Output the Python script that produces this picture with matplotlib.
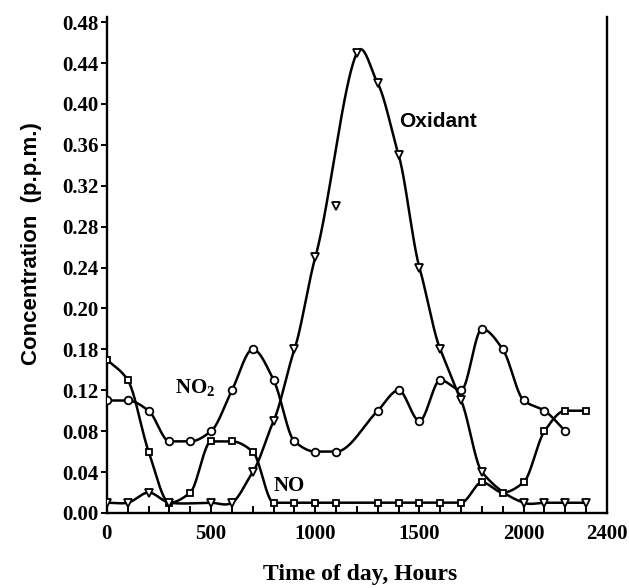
import matplotlib
matplotlib.use('Agg')
import matplotlib.pyplot as plt
import numpy as np

# ── Datos ────────────────────────────────────────────────────────────────────
NO2_H = [0, 100, 200, 300, 400, 500, 600, 700, 800, 900, 1000, 1100,
         1300, 1400, 1500, 1600, 1700, 1800, 1900, 2000, 2100, 2200]
NO2_C = [0.11, 0.11, 0.10, 0.07, 0.07, 0.08, 0.12, 0.16, 0.13, 0.07, 0.06, 0.06,
         0.10, 0.12, 0.09, 0.13, 0.12, 0.18, 0.16, 0.11, 0.10, 0.08]

NO_H = [0, 100, 200, 300, 400, 500, 600, 700, 800, 900, 1000, 1100,
        1300, 1400, 1500, 1600, 1700, 1800, 1900, 2000, 2100, 2200, 2300]
NO_C = [0.15, 0.13, 0.06, 0.01, 0.02, 0.07, 0.07, 0.06, 0.01, 0.01, 0.01, 0.01,
        0.01, 0.01, 0.01, 0.01, 0.01, 0.03, 0.02, 0.03, 0.08, 0.10, 0.10]

OX_H = [0, 100, 200, 300, 500, 600, 700, 800, 900, 1000, 1100, 1200,
        1300, 1400, 1500, 1600, 1700, 1800, 2000, 2100, 2200, 2300]
OX_C = [0.01, 0.01, 0.02, 0.01, 0.01, 0.01, 0.04, 0.09, 0.16, 0.25, 0.30, 0.45,
        0.42, 0.35, 0.24, 0.16, 0.11, 0.04, 0.01, 0.01, 0.01, 0.01]
OX_OFF_CURVE = [1100]   # punto dibujado fuera de la curva ajustada

Y_TICKS = [0.00, 0.04, 0.08, 0.12, 0.16, 0.20, 0.24, 0.28, 0.32, 0.36, 0.40, 0.44, 0.48]
Y_TICKLABELS = ["0.00", "0.04", "0.08", "0.12", "0.18", "0.20", "0.24",
                "0.28", "0.32", "0.36", "0.40", "0.44", "0.48"]
X_TICKS = [0, 500, 1000, 1500, 2000, 2400]
X_TICKLABELS = ["0", "500", "1000", "1500", "2000", "2400"]

SERIF = "Liberation Serif"
SANS = "Liberation Sans"

plt.rcParams["mathtext.fontset"] = "custom"
plt.rcParams["mathtext.rm"] = "Liberation Serif:bold"
plt.rcParams["mathtext.it"] = "Liberation Serif:bold"
plt.rcParams["mathtext.bf"] = "Liberation Serif:bold"


def hermite(x, y, m, xs):
    x = np.asarray(x, float)
    y = np.asarray(y, float)
    h = np.diff(x)
    idx = np.clip(np.searchsorted(x, xs) - 1, 0, len(h) - 1)
    t = (xs - x[idx]) / h[idx]
    h00 = 2 * t**3 - 3 * t**2 + 1
    h10 = t**3 - 2 * t**2 + t
    h01 = -2 * t**3 + 3 * t**2
    h11 = t**3 - t**2
    return h00 * y[idx] + h10 * h[idx] * m[idx] + h01 * y[idx + 1] + h11 * h[idx] * m[idx + 1]


def pchip(x, y, xs):
    """Curva suave monotona (Fritsch-Carlson)."""
    x = np.asarray(x, float)
    y = np.asarray(y, float)
    h = np.diff(x)
    d = np.diff(y) / h
    m = np.zeros_like(y)
    for k in range(1, len(y) - 1):
        if d[k - 1] * d[k] > 0:
            w1 = 2 * h[k] + h[k - 1]
            w2 = h[k] + 2 * h[k - 1]
            m[k] = (w1 + w2) / (w1 / d[k - 1] + w2 / d[k])
    m[0] = d[0]
    m[-1] = d[-1]
    return hermite(x, y, m, xs)


def cardinal(x, y, xs, tension=0.75):
    """Spline cardinal (trazo tenso, tipo curva francesa)."""
    x = np.asarray(x, float)
    y = np.asarray(y, float)
    m = np.zeros_like(y)
    m[1:-1] = tension * (y[2:] - y[:-2]) / (x[2:] - x[:-2])
    m[0] = (y[1] - y[0]) / (x[1] - x[0])
    m[-1] = (y[-1] - y[-2]) / (x[-1] - x[-2])
    return hermite(x, y, m, xs)


fig = plt.figure(figsize=(6.29, 5.88), dpi=100)
ax = fig.add_axes([0.170, 0.1276, 0.795, 0.8435])


def draw(hours, conc, marker, ms, smooth, skip=()):
    keep = [i for i, h in enumerate(hours) if h not in skip]
    hx = [hours[i] for i in keep]
    cy = [conc[i] for i in keep]
    xs = np.linspace(hx[0], hx[-1], 800)
    ax.plot(xs, smooth(hx, cy, xs), color="black", lw=1.8, zorder=2)
    ax.plot(hours, conc, linestyle="none", marker=marker, ms=ms,
            mfc="white", mec="black", mew=1.3, zorder=3)


draw(NO2_H, NO2_C, "o", 5.5, pchip)
draw(NO_H, NO_C, "s", 5, pchip)
draw(OX_H, OX_C, "v", 5.5, cardinal, skip=OX_OFF_CURVE)

ax.set_xlim(0, 2400)
ax.set_ylim(0, 0.485)

ax.spines["top"].set_visible(False)
for s in ["left", "right", "bottom"]:
    ax.spines[s].set_linewidth(1.7)

ax.set_yticks(Y_TICKS)
ax.set_yticklabels(Y_TICKLABELS, fontfamily=SERIF, fontweight="bold", fontsize=15)
ax.set_xticks(X_TICKS)
ax.set_xticklabels(X_TICKLABELS, fontfamily=SERIF, fontweight="bold", fontsize=15)
ax.set_xticks(np.arange(0, 2400, 100), minor=True)
ax.tick_params(axis="x", which="both", direction="in", length=5, width=1.4, pad=8)
ax.tick_params(axis="y", direction="out", length=4, width=1.4, pad=2)

ax.set_xlabel("Time of day, Hours", fontfamily=SERIF, fontweight="bold", fontsize=17)
ax.xaxis.label.set_va("center")
ax.xaxis.set_label_coords(0.506, -0.125)
ax.set_ylabel("Concentration  (p.p.m.)", fontfamily=SANS, fontweight="bold", fontsize=16)
ax.yaxis.label.set_va("center")
ax.yaxis.set_label_coords(-0.15, 0.544)

ax.text(422, 0.123, "NO$_2$", fontfamily=SERIF, fontweight="bold", fontsize=15,
        ha="center", va="center")
ax.text(873, 0.026, "NO", fontfamily=SERIF, fontweight="bold", fontsize=15,
        ha="center", va="center")
ax.text(1590, 0.383, "Oxidant", fontfamily=SANS, fontweight="bold", fontsize=15,
        ha="center", va="center")

fig.savefig("out.png", dpi=100, facecolor="white")
